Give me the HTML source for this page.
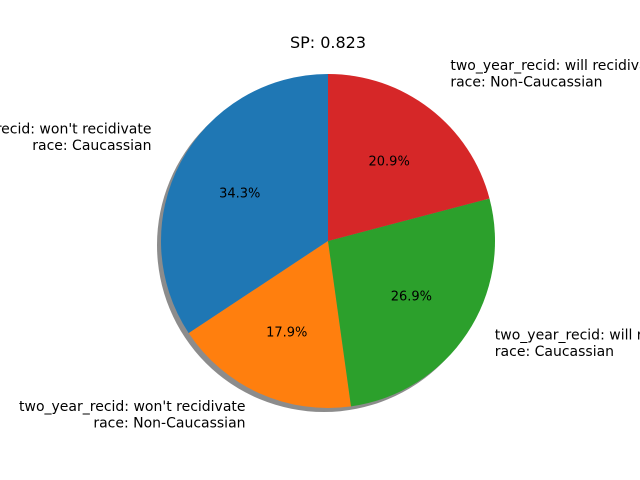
<!DOCTYPE html>
<html><head><meta charset="utf-8"><style>
html,body{margin:0;padding:0;background:#fff;}
svg{display:block;font-family:"DejaVu Sans","Liberation Sans",sans-serif;}
</style></head><body>
<svg id="chart" width="640" height="480" viewBox="0 0 640 480" xmlns="http://www.w3.org/2000/svg">
<rect width="640" height="480" fill="#fff"/>
<text x="328" y="48" text-anchor="middle" font-size="16" fill="#000">SP: 0.823</text>
<g id="shadow"></g>
<g id="slices"></g>
<g id="labels"></g>
</svg>
<script>
const categories = [
  ["two_year_recid: won't recidivate", "race: Caucassian"],
  ["two_year_recid: won't recidivate", "race: Non-Caucassian"],
  ["two_year_recid: will recidivate", "race: Caucassian"],
  ["two_year_recid: will recidivate", "race: Non-Caucassian"]
];
const values = [34.3, 17.9, 26.9, 20.9];
const colors = ["#1f77b4", "#ff7f0e", "#2ca02c", "#d62728"];
const NS = "http://www.w3.org/2000/svg";
const cx = 328, cy = 241, R = 167;
const total = values.reduce((a, b) => a + b, 0);
function pt(angDeg, r) {
  const a = angDeg * Math.PI / 180;
  return [cx + r * Math.cos(a), cy - r * Math.sin(a)];
}
const sh = document.createElementNS(NS, "circle");


sh.setAttribute("cx", cx - 4); sh.setAttribute("cy", cy + 4); sh.setAttribute("r", R);
sh.setAttribute("fill", "#000"); sh.setAttribute("opacity", "0.45");
document.getElementById("shadow").appendChild(sh);
let start = 90;
const gS = document.getElementById("slices"), gL = document.getElementById("labels");
values.forEach((v, i) => {
  const sweep = v / total * 360, end = start + sweep, mid = start + sweep / 2;
  const [x1, y1] = pt(start, R), [x2, y2] = pt(end, R);
  const p = document.createElementNS(NS, "path");
  
  
  p.setAttribute("d", `M${cx},${cy} L${x1},${y1} A${R},${R} 0 ${sweep > 180 ? 1 : 0} 0 ${x2},${y2} Z`);
  p.setAttribute("fill", colors[i]);
  gS.appendChild(p);
  const [px, py] = pt(mid, R * 0.6);
  const t = document.createElementNS(NS, "text");
  
  
  t.setAttribute("x", px); t.setAttribute("y", py + 4);
  t.setAttribute("text-anchor", "middle"); t.setAttribute("font-size", "13");
  t.textContent = v.toFixed(1) + "%";
  gS.appendChild(t);
  const [lx, ly] = pt(mid, R * 1.2);
  const right = lx > cx;
  const lt = document.createElementNS(NS, "text");
  
  
  lt.setAttribute("font-size", "14");
  lt.setAttribute("text-anchor", right ? "start" : "end");
  categories[i].forEach((line, j) => {
    const ts = document.createElementNS(NS, "tspan");
    
    
    ts.setAttribute("x", lx);
    ts.setAttribute("y", ly + 4 - (categories[i].length - 1 - j) * 16.5);
    ts.textContent = line;
    lt.appendChild(ts);
  });
  gL.appendChild(lt);
  start = end;
});
</script>
</body></html>
